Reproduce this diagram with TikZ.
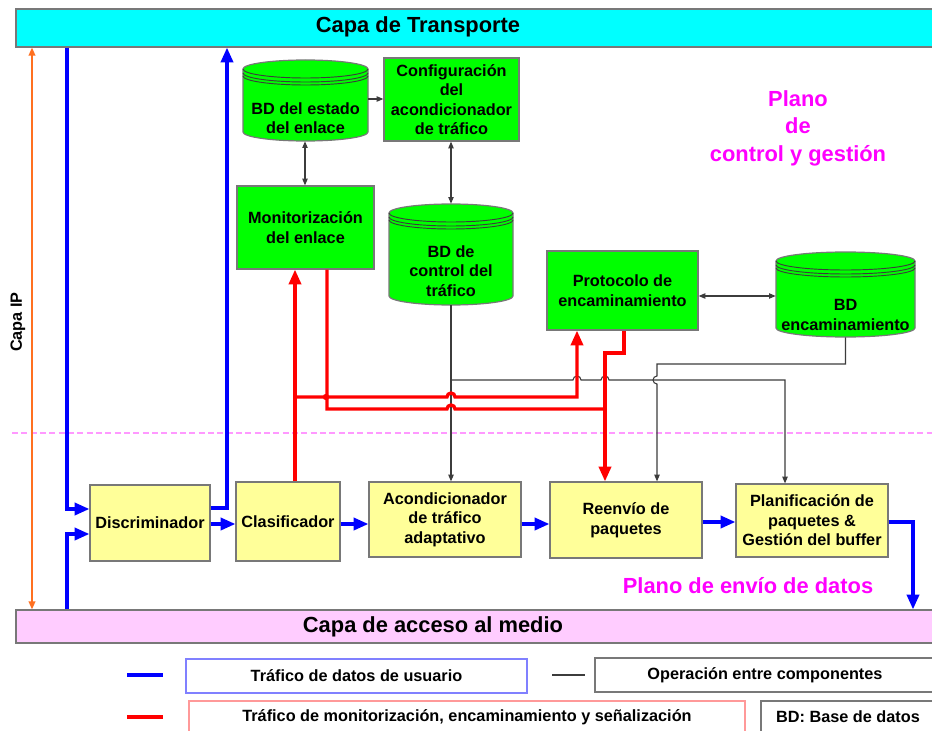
\documentclass[tikz,border=0pt]{standalone}
\usepackage{fontspec}
\setmainfont{Liberation Sans}
\usetikzlibrary{arrows.meta}

\definecolor{cyanbar}{RGB}{0,255,255}
\definecolor{pinkbar}{RGB}{255,204,255}
\definecolor{yfill}{RGB}{255,255,153}
\definecolor{gfill}{RGB}{0,255,0}
\definecolor{bord}{RGB}{120,120,120}
\definecolor{flowblue}{RGB}{0,0,255}
\definecolor{flowred}{RGB}{255,0,0}
\definecolor{ctlgray}{RGB}{60,60,60}
\definecolor{iporange}{RGB}{255,112,32}
\definecolor{planecol}{RGB}{255,0,255}
\definecolor{planedash}{RGB}{255,153,255}
\definecolor{legblue}{RGB}{128,128,255}
\definecolor{legred}{RGB}{255,153,153}

% rectangular block given by its corners (px): style, name, x1, y1, x2, y2, text
\newcommand\blk[7]{%
  \node[#1,minimum width={(#5-#3)*0.75pt},minimum height={(#6-#4)*0.75pt}]
    (#2) at ({(#3+#5)/2},{(#4+#6)/2}) {#7};}

% database cylinder given by its corners (px): name, x1, y1, x2, y2
\newcommand\dbcyl[5]{%
  \pgfmathsetmacro\dbrx{(#4-#2)/2}%
  \pgfmathsetmacro\dbyt{#3+9}%
  \pgfmathsetmacro\dbyb{#5-9}%
  \filldraw[dbshape] (#2,\dbyt) -- (#2,\dbyb)
    arc[start angle=180,end angle=0,x radius=\dbrx,y radius=9] -- (#4,\dbyt)
    arc[start angle=0,end angle=-180,x radius=\dbrx,y radius=9] -- cycle;
  \draw[dbline] (#2,\dbyt) arc[start angle=180,end angle=0,x radius=\dbrx,y radius=9];
  \draw[dbline] (#2,\dbyt+4) arc[start angle=180,end angle=0,x radius=\dbrx,y radius=9];
  \draw[dbline] (#2,\dbyt+7) arc[start angle=180,end angle=0,x radius=\dbrx,y radius=9];
  \node[inner sep=0pt,minimum width={(#4-#2)*0.75pt},minimum height={(#5-#3)*0.75pt}]
    (#1) at ({(#2+#4)/2},{(#3+#5)/2}) {};}

\begin{document}
\begin{tikzpicture}[x=0.75pt,y=-0.75pt,
  boxfont/.style={font=\fontsize{12.2}{14.6}\selectfont\bfseries},
  bigfont/.style={font=\fontsize{16.4}{20.6}\selectfont\bfseries},
  yblk/.style={draw=bord,fill=yfill,line width=0.9pt,inner sep=0pt,align=center,boxfont},
  gblk/.style={draw=bord,fill=gfill,line width=0.9pt,inner sep=0pt,align=center,boxfont},
  dbshape/.style={draw=bord,fill=gfill,line width=0.9pt},
  dbline/.style={draw=ctlgray,line width=0.7pt},
  layerbar/.style={draw=bord,line width=0.9pt,inner sep=0pt},
  legbox/.style={draw=bord,fill=white,line width=0.8pt,inner sep=0pt,boxfont},
  bflow/.style={draw=flowblue,line width=2.5pt,-{Triangle[length=11pt,width=9pt]}},
  bline/.style={draw=flowblue,line width=2.5pt},
  rflow/.style={draw=flowred,line width=2.5pt,-{Triangle[length=11pt,width=9pt]}},
  rline/.style={draw=flowred,line width=2.5pt},
  kline/.style={draw=ctlgray,line width=0.8pt},
  kflow/.style={kline,-{Triangle[length=5pt,width=4pt]}},
  kboth/.style={kline,{Triangle[length=5pt,width=4pt]}-{Triangle[length=5pt,width=4pt]}},
  ipflow/.style={draw=iporange,line width=1.1pt,{Triangle[length=6pt,width=5pt]}-{Triangle[length=6pt,width=5pt]}},
  planetext/.style={text=planecol,bigfont,align=center},
]
\clip (0,0) rectangle (932,731);
\fill[white] (0,0) rectangle (932,731);

% layers
\blk{layerbar,fill=cyanbar}{transp}{16}{9}{945}{47}{}
\node[bigfont] (transp-t) at (418,27) {Capa de Transporte};
\blk{layerbar,fill=pinkbar}{macc}{16}{610}{945}{643}{}
\node[bigfont] (macc-t) at (433,627) {Capa de acceso al medio};

% boundary between the two planes
\coordinate (dashA) at (12,433);
\coordinate (dashB) at (932,433);
\draw[planedash,line width=0.8pt,dash pattern=on 4.5pt off 2.5pt] (dashA) -- (dashB);

% plane titles
\node[planetext,font=\fontsize{16.4}{20.6}\selectfont\bfseries] (ctl-t) at (798,128) {Plano\\de\\control y gestión};
\node[planetext] (fwd-t) at (748,586) {Plano de envío de datos};

% IP layer extent
\coordinate (xIP) at (32,0);
\draw[ipflow] (xIP |- macc.north) -- (xIP |- transp.south);
\node[boxfont,rotate=90] (capaip) at (18,322) {Capa IP};

% control plane components
\dbcyl{bdest}{243}{60}{368}{141}
\node[boxfont,align=center] (bdest-t) at (305.5,118) {BD del estado\\del enlace};
\blk{gblk}{conf}{384}{58}{519}{141}{Configuración\\del\\acondicionador\\de tráfico}
\blk{gblk}{mon}{237}{186}{374}{269}{Monitorización\\del enlace}
\dbcyl{bdc}{389}{204}{513}{305}
\node[boxfont,align=center] (bdc-t) at (451,271) {BD de\\control del\\tráfico};
\blk{gblk}{prot}{547}{251}{698}{330}{Protocolo de\\encaminamiento}
\dbcyl{bdenc}{776}{252}{915}{337}
\node[boxfont,align=center] (bdenc-t) at (845.5,315) {BD\\encaminamiento};

% data plane components
\blk{yblk}{disc}{90}{485}{210}{561}{Discriminador}
\blk{yblk}{clas}{236}{482}{340}{561}{Clasificador}
\blk{yblk}{acon}{369}{482}{521}{557}{Acondicionador\\de tráfico\\adaptativo}
\blk{yblk}{reen}{550}{482}{702}{558}{Reenvío de\\paquetes}
\blk{yblk}{plan}{736}{484}{888}{557}{Planificación de\\paquetes \&\\Gestión del buffer}

% reference positions
\coordinate (xBin) at (67,0);
\coordinate (xBup) at (227,0);
\coordinate (xBout) at (913,0);
\coordinate (xMa) at (295,0);
\coordinate (xMb) at (327,0);
\coordinate (xPa) at (577,0);
\coordinate (xPb) at (624,0);
\coordinate (xRa) at (605,0);
\coordinate (xRb) at (657,0);
\coordinate (xK) at (451,0);
\coordinate (xE) at (305,0);
\coordinate (xPl) at (785,0);
\coordinate (yB1) at (0,509);
\coordinate (yB2) at (0,534);
\coordinate (yB3) at (0,508);
\coordinate (yB4) at (0,524);
\coordinate (yB5) at (0,522);
\coordinate (yK1) at (0,99);
\coordinate (yK5) at (0,296);
\coordinate (yK7) at (0,364);

% operations between components
\draw[kflow] (bdest.east |- yK1) -- (conf.west |- yK1);
\draw[kboth] (xE |- bdest.south) -- (xE |- mon.north);
\draw[kboth] (xK |- conf.south) -- (xK |- bdc.north);
\draw[kflow] (xK |- bdc.south) -- (xK |- acon.north);
\draw[kboth] (prot.east |- yK5) -- (bdenc.west |- yK5);
\draw[kflow] (451,380) -- (573,380) arc[start angle=180,end angle=360,radius=4]
  -- (601,380) arc[start angle=180,end angle=360,radius=4]
  -- (785,380) -- (xPl |- plan.north);
\draw[kflow] (bdenc.south) |- (xRb |- yK7) -- (657,376)
  arc[start angle=270,end angle=90,radius=4] -- (xRb |- reen.north);

% monitoring, routing and signalling traffic
\draw[rflow] (xMa |- clas.north) -- (xMa |- mon.south);
\draw[rflow] (295,397) -- (447,397) arc[start angle=180,end angle=360,radius=4]
  -- (577,397) -- (xPa |- prot.south);
\draw[rline] (xMb |- mon.south) -- (327,409) -- (447,409)
  arc[start angle=180,end angle=360,radius=4] -- (605,409);
\draw[rflow] (xPb |- prot.south) -- (624,353) -- (605,353) -- (xRa |- reen.north);
\fill[flowred] (326,397) circle[radius=3.2];

% user data traffic
\draw[bflow] (xBin |- transp.south) |- (disc.west |- yB1);
\draw[bflow] (xBin |- macc.north) |- (disc.west |- yB2);
\draw[bflow] (disc.east |- yB3) -| (xBup |- transp.south);
\draw[bflow] (disc.east |- yB4) -- (clas.west |- yB4);
\draw[bflow] (clas.east |- yB4) -- (acon.west |- yB4);
\draw[bflow] (acon.east |- yB4) -- (reen.west |- yB4);
\draw[bflow] (reen.east |- yB5) -- (plan.west |- yB5);
\draw[bflow] (plan.east |- yB5) -| (xBout |- macc.north);

% legend
\coordinate (lgB1) at (127,675);
\coordinate (lgB2) at (163,675);
\coordinate (lgK1) at (552,675);
\coordinate (lgK2) at (585,675);
\coordinate (lgR1) at (127,717);
\coordinate (lgR2) at (163,717);
\draw[bline] (lgB1) -- (lgB2);
\draw[kline] (lgK1) -- (lgK2);
\draw[rline] (lgR1) -- (lgR2);
\blk{legbox,draw=legblue}{legU}{186}{659}{527}{693}{Tráfico de datos de usuario}
\blk{legbox}{legO}{595}{658}{935}{692}{Operación entre componentes}
\blk{legbox,draw=legred}{legM}{189}{701}{745}{733}{Tráfico de monitorización, encaminamiento y señalización}
\blk{legbox}{legBD}{761}{701}{935}{733}{BD: Base de datos}
\end{tikzpicture}
\end{document}
